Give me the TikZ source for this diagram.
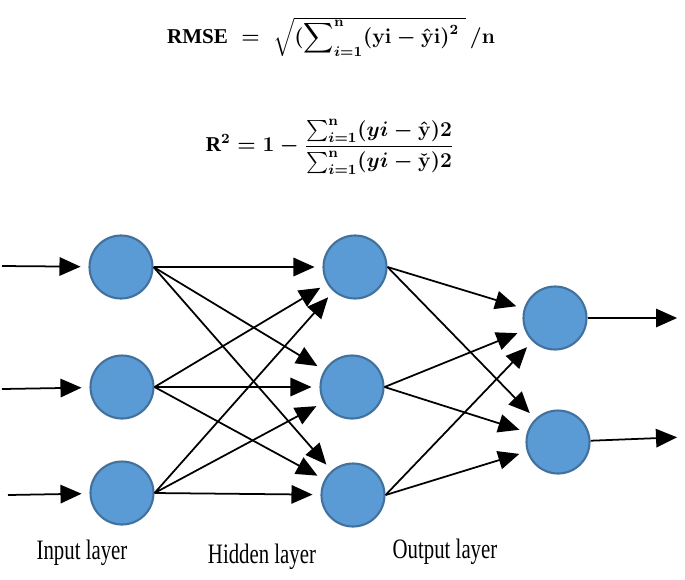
\documentclass[tikz,border=0pt]{standalone}
\usepackage{amsmath, amssymb}
\usepackage{fontspec}
\newfontfamily\layerfont{Liberation Serif}
\usetikzlibrary{arrows.meta,positioning}
\definecolor{nodeblue}{HTML}{5B9BD5}
\definecolor{nodeedge}{HTML}{41719C}

\begin{document}
\begin{tikzpicture}[x=0.02cm,y=-0.02cm,
    neuron/.style={circle,draw=nodeedge,fill=nodeblue,line width=1.2pt,minimum size=1.26cm,inner sep=0},
    conn/.style={-{Triangle[length=12pt,width=10.5pt]},line width=1pt,shorten >=4.5pt},
    layerlabel/.style={font=\fontsize{16}{18}\selectfont\layerfont},
    formula/.style={font=\fontsize{12}{14}\selectfont\boldmath}]
      \useasboundingbox (0,0) rectangle (685,579);
      % the two error measures
      \node[formula] (rmse) at (331,37) {$\text{\layerfont\bfseries RMSE}\;=\;\sqrt{(\displaystyle\sum\nolimits_{i=1}^{\mathbf{n}}(\mathbf{yi}-\hat{\mathbf{y}}\mathbf{i})^{\mathbf{2}}\;}\,/\mathbf{n}$};
      \node[formula] (rsq) at (330,147) {$\text{\layerfont\bfseries R}^{\mathbf{2}}=\mathbf{1}-\displaystyle\frac{\sum_{i=1}^{\mathbf{n}}(yi-\hat{\mathbf{y}})\mathbf{2}}{\sum_{i=1}^{\mathbf{n}}(yi-\check{\mathbf{y}})\mathbf{2}}$};
      % input layer
      \node[neuron] (i1) at (121,267) {};
      \node[neuron] (i2) at (122,387) {};
      \node[neuron] (i3) at (122,493) {};
      % hidden layer
      \node[neuron] (h1) at (355,267) {};
      \node[neuron] (h2) at (352,387) {};
      \node[neuron] (h3) at (353,495) {};
      % output layer
      \node[neuron] (o1) at (555,318) {};
      \node[neuron] (o2) at (558,442) {};
      % free ends
      \coordinate (in1) at (2,266);
      \coordinate (in2) at (2,389);
      \coordinate (in3) at (8,495);
      \coordinate (out1) at (685,318);
      \coordinate (out2) at (685,437);
      \draw[conn] (in1) -- (i1);
      \draw[conn] (in2) -- (i2);
      \draw[conn] (in3) -- (i3);
      \foreach \s in {i1,i2,i3}
        \foreach \t in {h1,h2,h3}
          \draw[conn] (\s.east) -- (\t);
      \foreach \s in {h1,h2,h3}
        \foreach \t in {o1,o2}
          \draw[conn] (\s.east) -- (\t);
      \draw[conn] (o1) -- (out1);
      \draw[conn] (o2) -- (out2);
      % layer names
      \node[layerlabel] (inlab) at (82,553) {\scalebox{0.74}[1]{Input layer}};
      \node[layerlabel] (hidlab) at (262,557) {\scalebox{0.74}[1]{Hidden layer}};
      \node[layerlabel] (outlab) at (445,552) {\scalebox{0.74}[1]{Output layer}};
\end{tikzpicture}
\end{document}
